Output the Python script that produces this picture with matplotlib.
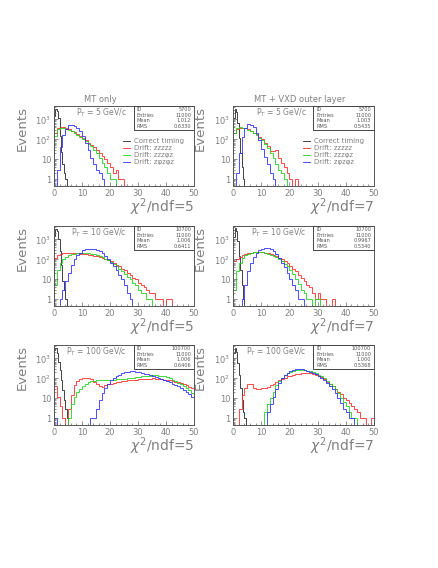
import matplotlib.pyplot as plt
import numpy as np

# counts per bin
# correct timing: 0.5 wide bins from 0, drift hypotheses: 1.0 wide bins from 0
black_5_mt = [1500, 3500, 2800, 1200, 150, 25, 6, 2, 1]
red_5_mt = [200, 380, 430, 430, 380, 330, 280, 230, 190, 150, 115, 90, 70, 55, 40,
            30, 22, 15, 10, 7, 4, 2, 3, 1, 1]
green_5_mt = [150, 320, 380, 380, 350, 310, 260, 210, 170, 140, 110, 85, 62, 45, 30,
              20, 12, 7, 4, 2, 1, 1]
blue_5_mt = [0, 3, 40, 160, 350, 520, 550, 480, 380, 260, 150, 70, 30, 12, 6, 3, 2, 1]

black_5_vxd = [1200, 3500, 2500, 700, 120, 20, 4, 1]
red_5_vxd = [200, 330, 380, 380, 360, 320, 270, 220, 180, 140, 100, 70, 45, 28, 28,
             30, 12, 7, 4, 2, 1, 0, 1]
green_5_vxd = [220, 360, 400, 390, 360, 310, 260, 210, 165, 125, 90, 60, 38, 22, 12,
               6, 3, 2, 1]
blue_5_vxd = [0, 2, 20, 130, 380, 580, 560, 400, 200, 90, 35, 14, 6, 2, 1]

black_10_mt = [1500, 3300, 2500, 1000, 250, 50, 8, 3, 1]
red_10_mt = [120, 170, 190, 200, 210, 210, 210, 205, 200, 195, 190, 180, 175, 165, 155,
             145, 135, 120, 105, 90, 80, 68, 55, 45, 35, 28, 22, 17, 12, 10,
             7, 5, 4, 3, 2, 2, 1, 1, 1, 0, 1, 1]
green_10_mt = [5, 30, 70, 110, 140, 165, 180, 195, 205, 210, 210, 210, 205, 195, 180,
               165, 150, 130, 110, 90, 72, 58, 45, 35, 26, 19, 14, 10, 7, 5,
               3, 2, 2, 1, 1]
blue_10_mt = [0, 0, 1, 3, 8, 20, 50, 100, 160, 220, 280, 320, 340, 340, 320,
              290, 250, 200, 150, 105, 70, 45, 28, 17, 10, 5, 2, 1]

black_10_vxd = [1300, 3600, 2600, 800, 150, 30, 5, 1]
red_10_vxd = [80, 110, 140, 165, 185, 200, 215, 225, 230, 230, 225, 215, 200, 185, 165,
              145, 125, 105, 85, 65, 48, 35, 25, 17, 12, 8, 5, 4, 2, 1,
              2, 1, 1, 0, 0, 1]
green_10_vxd = [3, 25, 70, 120, 160, 190, 210, 225, 230, 230, 225, 210, 195, 175, 155,
                130, 105, 85, 62, 45, 30, 18, 10, 6, 3, 2, 1, 1, 0, 1, 1]
blue_10_vxd = [0, 0, 0, 1, 5, 25, 70, 140, 220, 290, 350, 380, 380, 340, 270,
               190, 120, 70, 40, 20, 10, 5, 3, 1, 1]

black_100_mt = [2500, 3200, 1800, 700, 250, 80, 25, 8, 3, 1]
red_100_mt = [40, 12, 4, 1, 0, 3, 15, 45, 75, 95, 105, 105, 100, 90, 70,
              50, 40, 38, 45, 50, 55, 60, 65, 70, 75, 78, 80, 82, 85, 88,
              90, 92, 95, 95, 98, 100, 98, 95, 90, 88, 85, 80, 75, 70, 65,
              60, 52, 45, 38, 32]
green_100_mt = [0, 0, 0, 0, 0, 1, 5, 12, 20, 30, 42, 55, 65, 72, 78,
                80, 82, 80, 80, 82, 85, 88, 90, 92, 95, 98, 100, 105, 110, 115,
                120, 125, 130, 135, 140, 145, 145, 140, 135, 125, 115, 100, 88, 75, 62,
                50, 40, 32, 25, 18]
blue_100_mt = [1, 0, 0, 0, 0, 0, 0, 0, 0, 0, 0, 0, 0, 1, 1,
               3, 8, 18, 35, 55, 80, 105, 130, 155, 180, 200, 220, 235, 230, 220,
               205, 190, 175, 160, 145, 130, 118, 105, 95, 85, 75, 65, 55, 47, 40,
               33, 27, 22, 17, 12]

black_100_vxd = [1800, 3500, 2000, 600, 150, 35, 8, 2, 1]
red_100_vxd = [0, 0, 3, 15, 35, 55, 50, 35, 30, 30, 32, 35, 38, 45, 55,
               65, 80, 95, 110, 125, 140, 155, 165, 175, 180, 185, 185, 180, 170, 155,
               135, 115, 90, 70, 55, 42, 30, 22, 16, 11, 8, 6, 4, 3, 2,
               1, 1, 0, 0, 1]
green_100_vxd = [0, 0, 0, 0, 0, 0, 0, 0, 0, 0, 0, 2, 5, 10, 22,
                 45, 75, 110, 145, 180, 210, 235, 250, 260, 260, 255, 245, 230, 210, 185,
                 155, 125, 100, 75, 55, 40, 28, 18, 11, 7, 4, 2, 1, 1]
blue_100_vxd = [0, 0, 0, 0, 0, 0, 0, 0, 0, 0, 0, 0, 2, 5, 12,
                30, 60, 100, 145, 190, 230, 265, 285, 290, 280, 265, 245, 220, 195, 165,
                135, 105, 80, 58, 40, 28, 18, 10, 6, 3, 2, 1, 1]

pt_values = [5, 10, 100]
ndf_values = [5, 7]
col_titles = ['MT only', 'MT + VXD outer layer']
legend_labels = ['Correct timing', 'Drift: zzzzz', 'Drift: zzz\u03c6z', 'Drift: z\u03c6z\u03c6z']

hist_ids = [[5700, 5700], [10700, 10700], [100700, 100700]]
hist_entries = [[11000, 11000], [11000, 11000], [11000, 11000]]
hist_means = [['1.012', '1.003'], ['1.006', '0.9967'], ['1.006', '1.000']]
hist_rms = [['0.6330', '0.5435'], ['0.6411', '0.5340'], ['0.6406', '0.5368']]

panels = [
    [(black_5_mt, red_5_mt, green_5_mt, blue_5_mt),
     (black_5_vxd, red_5_vxd, green_5_vxd, blue_5_vxd)],
    [(black_10_mt, red_10_mt, green_10_mt, blue_10_mt),
     (black_10_vxd, red_10_vxd, green_10_vxd, blue_10_vxd)],
    [(black_100_mt, red_100_mt, green_100_mt, blue_100_mt),
     (black_100_vxd, red_100_vxd, green_100_vxd, blue_100_vxd)],
]

colors = ['#222222', '#ff2a2a', '#1fd21f', '#3030ff']
bin_widths = [0.5, 1.0, 1.0, 1.0]
txt = '#808080'

fig = plt.figure(figsize=(4.39, 5.68), dpi=100)

lefts = [0.123, 0.531]
bottoms = [0.6725, 0.4613, 0.2518]
widths = [0.319, 0.321]
height = 0.1408

for r in range(3):
    for c in range(2):
        ax = fig.add_axes([lefts[c], bottoms[r], widths[c], height])
        ax.set_yscale('log')
        handles = []
        for vals, col, w in zip(panels[r][c], colors, bin_widths):
            v = np.array(vals, dtype=float)
            v[v <= 0] = 0.1
            edges = np.arange(len(v) + 1) * w
            h = ax.stairs(v, edges, baseline=0.1, color=col, lw=0.6)
            handles.append(h)
        ax.set_xlim(0, 50)
        ax.set_ylim(0.47, 4700)

        ax.set_xticks([0, 10, 20, 30, 40, 50])
        ax.set_xticks(np.arange(0, 51, 2), minor=True)
        ax.set_yticks([1, 10, 100, 1000])
        ax.set_yticklabels(['1', '10', '10$^2$', '10$^3$'])
        ax.tick_params(which='both', direction='in', colors='#666666', labelcolor=txt,
                       labelsize=6, width=0.5)
        ax.tick_params(which='major', length=3)
        ax.tick_params(which='minor', length=1.5)
        ax.tick_params(axis='x', pad=2)
        ax.tick_params(axis='y', pad=2)
        for sp in ax.spines.values():
            sp.set_color('#555555')
            sp.set_linewidth(0.7)

        ax.text(1.0, -0.27, '$\\chi^2$/ndf=%d' % ndf_values[c], transform=ax.transAxes,
                ha='right', va='center', fontsize=10, color=txt)
        ax.text(-0.23, 0.72, 'Events', rotation=90, transform=ax.transAxes,
                ha='center', va='center', fontsize=9.5, color=txt)
        ax.text(0.52, 0.91, 'P$_T$ = %d GeV/c' % pt_values[r], transform=ax.transAxes,
                ha='right', va='center', fontsize=5.5, color=txt)

        # statistics box
        ax.add_patch(plt.Rectangle((0.57, 0.70), 0.43, 0.30, transform=ax.transAxes,
                                   facecolor='white', edgecolor='#444444', lw=0.7,
                                   zorder=5))
        rows = [('ID', str(hist_ids[r][c])), ('Entries', str(hist_entries[r][c])),
                ('Mean', hist_means[r][c]), ('RMS', hist_rms[r][c])]
        for k, (lab, val) in enumerate(rows):
            yy = 0.955 - k * 0.07
            ax.text(0.59, yy, lab, transform=ax.transAxes, ha='left', va='center',
                    fontsize=3.6, color='#555555', zorder=6)
            ax.text(0.98, yy, val, transform=ax.transAxes, ha='right', va='center',
                    fontsize=3.6, color='#555555', zorder=6)

        if r == 0:
            ax.set_title(col_titles[c], fontsize=6, color=txt, pad=3,
                         x=[0.33, 0.47][c])
            leg = ax.legend(handles, legend_labels, loc='upper left',
                            bbox_to_anchor=(0.46, 0.66), frameon=False, fontsize=5,
                            handlelength=1.0, handletextpad=0.6, labelspacing=0.15,
                            borderpad=0.2)
            for t in leg.get_texts():
                t.set_color(txt)

fig.savefig('out.png', dpi=100)
